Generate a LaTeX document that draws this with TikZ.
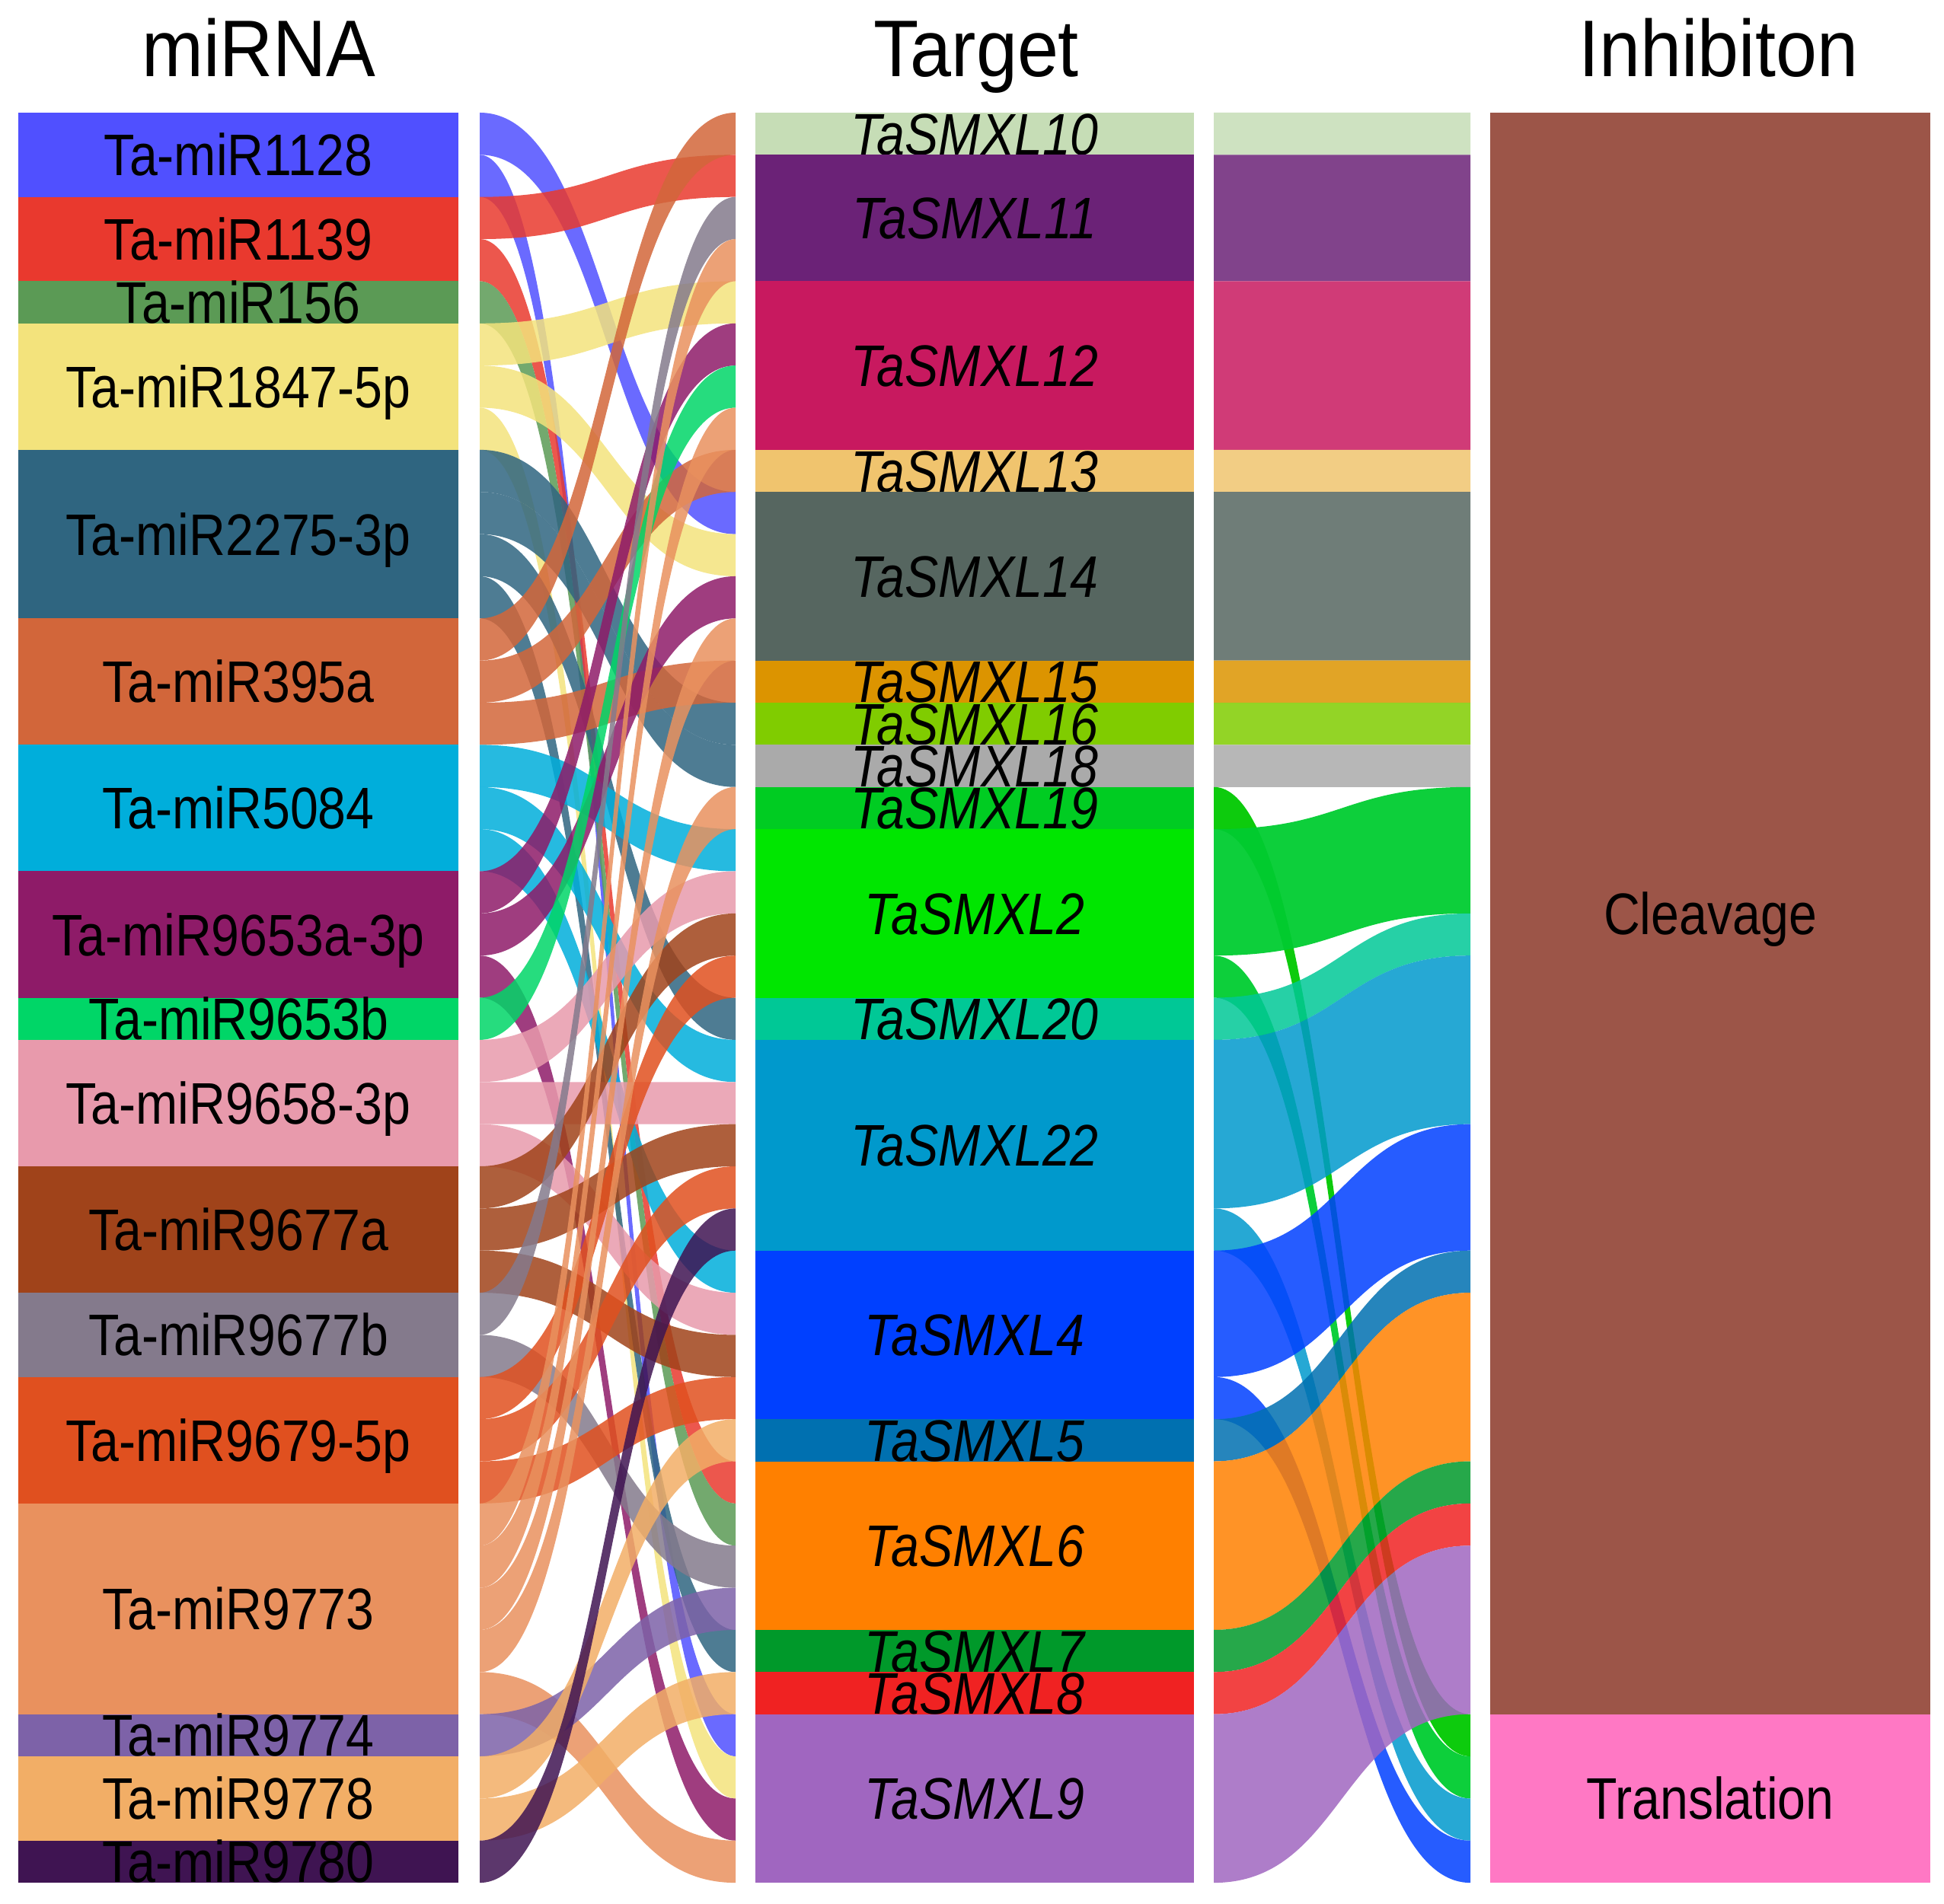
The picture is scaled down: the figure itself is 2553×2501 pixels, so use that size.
\documentclass[tikz,border=0pt]{standalone}
\usepackage{fontspec}
\setmainfont{Liberation Sans}
\newfontfamily\labelfont[FakeStretch=0.86]{Liberation Sans}
\newfontfamily\titlefont[FakeStretch=0.92]{Liberation Sans}

% miRNA colours
\definecolor{c1128}{HTML}{5050FF}
\definecolor{c1139}{HTML}{E9392E}
\definecolor{c156}{HTML}{5B9A55}
\definecolor{c1847}{HTML}{F3E37C}
\definecolor{c2275}{HTML}{2F6580}
\definecolor{c395}{HTML}{D2663A}
\definecolor{c5084}{HTML}{00AEDB}
\definecolor{c9653a}{HTML}{8E1B68}
\definecolor{c9653b}{HTML}{00D667}
\definecolor{c9658}{HTML}{E89AAC}
\definecolor{c9677a}{HTML}{A0431A}
\definecolor{c9677b}{HTML}{847A8C}
\definecolor{c9679}{HTML}{E0501F}
\definecolor{c9773}{HTML}{E9915E}
\definecolor{c9774}{HTML}{7D62A8}
\definecolor{c9778}{HTML}{F2AE66}
\definecolor{c9780}{HTML}{3F1452}
% target colours
\definecolor{t10}{HTML}{C6DDB6}
\definecolor{t11}{HTML}{6B2277}
\definecolor{t12}{HTML}{C8195F}
\definecolor{t13}{HTML}{F0C46E}
\definecolor{t14}{HTML}{566660}
\definecolor{t15}{HTML}{DC9400}
\definecolor{t16}{HTML}{80CC00}
\definecolor{t18}{HTML}{AAAAAA}
\definecolor{t19}{HTML}{00CC22}
\definecolor{t2}{HTML}{00E600}
\definecolor{t20}{HTML}{00C896}
\definecolor{t22}{HTML}{0099CC}
\definecolor{t4}{HTML}{0040FF}
\definecolor{t5}{HTML}{0070B0}
\definecolor{t6}{HTML}{FF8000}
\definecolor{t7}{HTML}{00992A}
\definecolor{t8}{HTML}{F02222}
\definecolor{t9}{HTML}{A066C0}
% the two green bands on the right
\definecolor{f19}{HTML}{00C800}
\definecolor{f2}{HTML}{00CC30}
\definecolor{cleav}{HTML}{9C5548}
\definecolor{transl}{HTML}{FF78C4}

\newcommand{\flowband}[7]{%
  \pgfmathsetmacro{\ya}{148+55.36*#3}
  \pgfmathsetmacro{\yb}{148+55.36*#4}
  \pgfmathsetmacro{\hh}{55.36*#5}
  \pgfmathsetmacro{\xm}{(#1+#2)/2}
  \fill[#6,opacity=#7] (#1,\ya) .. controls (\xm,\ya) and (\xm,\yb) .. (#2,\yb)
    -- (#2,{\yb+\hh}) .. controls (\xm,{\yb+\hh}) and (\xm,{\ya+\hh}) .. (#1,{\ya+\hh}) -- cycle;}

\begin{document}
\begin{tikzpicture}[x=0.01cm,y=-0.01cm,
    lab/.style={anchor=base,font=\labelfont\fontsize{21.9}{22}\selectfont},
    head/.style={anchor=base,font=\titlefont\fontsize{30}{30}\selectfont}]
\useasboundingbox (0,0) rectangle (2553,2501);

\node[head] (hmirna) at (340,101) {miRNA};
\node[head] (htarget) at (1282,101) {Target};
\node[head] (hinhib) at (2257,101) {Inhibiton};

\foreach \a/\b/\c/\nm/\txt in {0/2/c1128/m1128/Ta-miR1128,2/4/c1139/m1139/Ta-miR1139,
    4/5/c156/m156/Ta-miR156,5/8/c1847/m1847/Ta-miR1847-5p,8/12/c2275/m2275/Ta-miR2275-3p,
    12/15/c395/m395/Ta-miR395a,15/18/c5084/m5084/Ta-miR5084,18/21/c9653a/m9653a/Ta-miR9653a-3p,
    21/22/c9653b/m9653b/Ta-miR9653b,22/25/c9658/m9658/Ta-miR9658-3p,25/28/c9677a/m9677a/Ta-miR9677a,
    28/30/c9677b/m9677b/Ta-miR9677b,30/33/c9679/m9679/Ta-miR9679-5p,33/38/c9773/m9773/Ta-miR9773,
    38/39/c9774/m9774/Ta-miR9774,39/41/c9778/m9778/Ta-miR9778,41/42/c9780/m9780/Ta-miR9780}{
  \fill[\c] (24,{148+55.36*\a}) rectangle (602,{148+55.36*\b});
  \node[lab] (\nm) at (313,{148+55.36*(\a+\b)/2+27.5}) {\txt};
}

\foreach \a/\b/\c/\nm/\txt in {0/1/t10/x10/TaSMXL10,1/4/t11/x11/TaSMXL11,4/8/t12/x12/TaSMXL12,
    8/9/t13/x13/TaSMXL13,9/13/t14/x14/TaSMXL14,13/14/t15/x15/TaSMXL15,14/15/t16/x16/TaSMXL16,
    15/16/t18/x18/TaSMXL18,16/17/t19/x19/TaSMXL19,17/21/t2/x2/TaSMXL2,21/22/t20/x20/TaSMXL20,
    22/27/t22/x22/TaSMXL22,27/31/t4/x4/TaSMXL4,31/32/t5/x5/TaSMXL5,32/36/t6/x6/TaSMXL6,
    36/37/t7/x7/TaSMXL7,37/38/t8/x8/TaSMXL8,38/42/t9/x9/TaSMXL9}{
  \fill[\c] (992,{148+55.36*\a}) rectangle (1568,{148+55.36*\b});
  \node[lab] (\nm) at (1280,{148+55.36*(\a+\b)/2+27.5}) {\itshape\txt};
}

\foreach \a/\b/\c/\nm/\txt in {0/38/cleav/cleavage/Cleavage,38/42/transl/translation/Translation}{
  \fill[\c] (1957,{148+55.36*\a}) rectangle (2535,{148+55.36*\b});
  \node[lab] (\nm) at (2246,{148+55.36*(\a+\b)/2+27.5}) {\txt};
}

% miRNA -> target
\foreach \l/\r/\c in {0/9/c1128,1/38/c1128,2/1/c1139,3/32/c1139,4/33/c156,5/4/c1847,6/10/c1847,
    7/39/c1847,8/14/c2275,9/15/c2275,10/21/c2275,11/36/c2275,12/0/c395,13/8/c395,14/13/c395,
    15/17/c5084,16/22/c5084,17/27/c5084,18/5/c9653a,19/11/c9653a,20/40/c9653a,21/6/c9653b,
    22/18/c9658,23/23/c9658,24/28/c9658,25/19/c9677a,26/24/c9677a,27/29/c9677a,28/2/c9677b,
    29/34/c9677b,30/20/c9679,31/25/c9679,32/30/c9679,33/3/c9773,34/7/c9773,35/12/c9773,
    36/16/c9773,37/41/c9773,38/35/c9774,39/31/c9778,40/37/c9778,41/26/c9780}{
  \flowband{630}{966}{\l}{\r}{1}{\c}{0.85}
}

% target -> inhibition
\foreach \l/\r/\n/\c/\o in {0/0/1/t10/0.85,1/1/3/t11/0.85,4/4/4/t12/0.85,8/8/1/t13/0.85,
    9/9/4/t14/0.85,13/13/1/t15/0.85,14/14/1/t16/0.85,15/15/1/t18/0.85,16/38/1/f19/0.95,
    17/16/3/f2/0.95,20/39/1/f2/0.95,21/19/1/t20/0.85,22/20/4/t22/0.85,26/40/1/t22/0.85,
    27/24/3/t4/0.85,30/41/1/t4/0.85,31/27/1/t5/0.85,32/28/4/t6/0.85,36/32/1/t7/0.85,
    37/33/1/t8/0.85,38/34/4/t9/0.85}{
  \flowband{1594}{1931}{\l}{\r}{\n}{\c}{\o}
}
\end{tikzpicture}
\end{document}
